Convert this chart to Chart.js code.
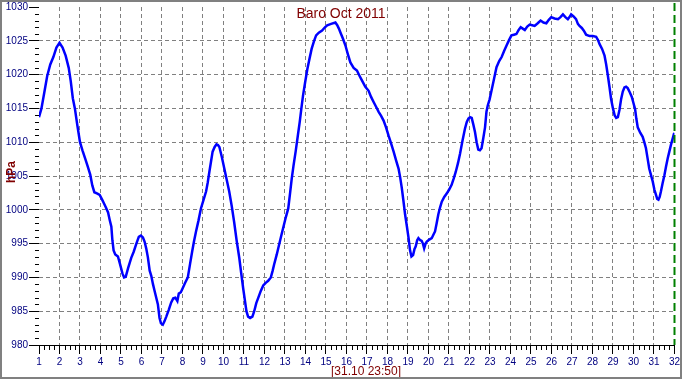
<!DOCTYPE html>
<html>
<head>
<meta charset="utf-8">
<script src="https://cdn.jsdelivr.net/npm/chart.js@4.4.1/dist/chart.umd.min.js"></script>
<style>
  body { margin: 0; background: #fff; }
  #wrap { width: 682px; height: 380px; }
</style>
</head>
<body>
<div id="wrap"><canvas id="baroChart" width="682" height="380"></canvas></div>
<script>
// time in days of October (1 = 1 Oct 00:00), pressure in hPa
const days = [
  1.00, 1.12, 1.25, 1.40, 1.55, 1.70, 1.85, 2.00, 2.15, 2.30, 2.45, 2.55, 2.65, 2.75, 2.87,
  3.00, 3.12, 3.25, 3.38, 3.50, 3.60, 3.70, 3.85, 3.96, 4.08, 4.16, 4.27, 4.37, 4.45, 4.53,
  4.58, 4.64, 4.72, 4.85, 4.95, 5.07, 5.15, 5.23, 5.35, 5.50, 5.62, 5.75, 5.87, 5.97, 6.07,
  6.15, 6.23, 6.31, 6.40, 6.48, 6.56, 6.64, 6.72, 6.80, 6.88, 6.95, 7.04, 7.12, 7.21, 7.33,
  7.45, 7.55, 7.65, 7.75, 7.82, 7.92, 8.01, 8.13, 8.26, 8.37, 8.47, 8.56, 8.66, 8.78, 8.90,
  9.02, 9.15, 9.23, 9.31, 9.39, 9.47, 9.57, 9.66, 9.73, 9.80, 9.92, 10.04, 10.16, 10.28, 10.40,
  10.52, 10.64, 10.77, 10.87, 10.96, 11.05, 11.12, 11.20, 11.30, 11.41, 11.50, 11.60, 11.70, 11.82, 11.94,
  12.06, 12.18, 12.31, 12.40, 12.47, 12.60, 12.71, 12.83, 12.95, 13.05, 13.16, 13.25, 13.33, 13.42, 13.52,
  13.62, 13.72, 13.80, 13.88, 13.98, 14.09, 14.20, 14.30, 14.42, 14.52, 14.65, 14.81, 14.95, 15.06, 15.25,
  15.46, 15.55, 15.63, 15.71, 15.83, 15.95, 16.07, 16.19, 16.35, 16.51, 16.64, 16.76, 16.92, 17.08, 17.20,
  17.33, 17.45, 17.57, 17.69, 17.81, 17.93, 18.05, 18.18, 18.30, 18.42, 18.54, 18.62, 18.70, 18.78, 18.86,
  18.95, 19.03, 19.10, 19.17, 19.25, 19.32, 19.38, 19.45, 19.51, 19.60, 19.67, 19.73, 19.79, 19.86, 19.92,
  20.04, 20.16, 20.24, 20.32, 20.40, 20.48, 20.56, 20.65, 20.77, 20.89, 21.01, 21.13, 21.23, 21.33, 21.44,
  21.54, 21.66, 21.78, 21.87, 21.95, 22.03, 22.11, 22.19, 22.27, 22.35, 22.43, 22.51, 22.59, 22.67, 22.76,
  22.83, 22.89, 22.98, 23.08, 23.20, 23.32, 23.45, 23.57, 23.69, 23.81, 23.93, 24.05, 24.17, 24.29, 24.40,
  24.50, 24.60, 24.70, 24.82, 24.94, 25.06, 25.18, 25.33, 25.47, 25.61, 25.75, 25.87, 25.99, 26.15, 26.32,
  26.44, 26.56, 26.68, 26.80, 26.88, 26.96, 27.08, 27.20, 27.29, 27.37, 27.48, 27.58, 27.69, 27.86, 28.02,
  28.18, 28.27, 28.35, 28.47, 28.59, 28.67, 28.75, 28.83, 28.91, 29.00, 29.08, 29.16, 29.24, 29.32, 29.40,
  29.48, 29.56, 29.64, 29.72, 29.82, 29.92, 30.00, 30.08, 30.14, 30.21, 30.33, 30.45, 30.53, 30.61, 30.69,
  30.77, 30.86, 30.94, 31.02, 31.10, 31.16, 31.22, 31.28, 31.34, 31.42, 31.51, 31.59, 31.67, 31.75, 31.83,
  31.91, 31.99
];
const hpa = [
  1013.7, 1015.0, 1017.2, 1019.8, 1021.5, 1022.6, 1024.0, 1024.7, 1024.0, 1022.8, 1021.0, 1019.0, 1016.5, 1015.0, 1012.5,
  1010.0, 1008.8, 1007.6, 1006.4, 1005.2, 1003.6, 1002.6, 1002.4, 1002.2, 1001.5, 1001.0, 1000.3, 999.6, 998.5, 997.5,
  995.5, 994.0, 993.4, 993.1, 992.0, 990.6, 990.0, 990.1, 991.4, 992.9, 993.8, 995.0, 996.0, 996.2, 995.9,
  995.3, 994.3, 993.0, 991.0, 990.2, 989.0, 988.0, 987.0, 986.0, 984.0, 983.2, 983.0, 983.5, 984.2, 985.2,
  986.3, 986.9, 987.0, 986.5, 987.6, 987.8, 988.4, 989.2, 990.0, 992.0, 993.8, 995.3, 996.8, 998.4, 1000.2,
  1001.4, 1002.7, 1004.0, 1005.6, 1007.1, 1008.6, 1009.3, 1009.7, 1009.6, 1009.3, 1007.8, 1006.1, 1004.4, 1002.7, 1000.6,
  998.2, 995.5, 992.9, 990.5, 988.4, 986.5, 985.0, 984.2, 984.0, 984.2, 985.0, 986.2, 987.0, 988.0, 988.8,
  989.2, 989.5, 990.0, 991.0, 991.9, 993.4, 994.8, 996.3, 997.8, 999.0, 1000.2, 1002.5, 1004.6, 1006.6, 1008.6,
  1010.8, 1013.0, 1015.0, 1016.9, 1018.8, 1020.8, 1022.4, 1023.8, 1025.0, 1025.8, 1026.2, 1026.5, 1027.0, 1027.3, 1027.5,
  1027.7, 1027.3, 1026.8, 1026.2, 1025.3, 1024.3, 1023.0, 1021.8, 1021.0, 1020.6, 1019.8, 1019.1, 1018.2, 1017.6, 1016.7,
  1015.9, 1015.2, 1014.5, 1013.9, 1013.2, 1012.2, 1011.0, 1009.8, 1008.6, 1007.3, 1006.1, 1004.8, 1003.2, 1001.3, 999.3,
  997.5, 995.8, 994.0, 993.1, 993.3, 994.2, 994.6, 995.5, 995.8, 995.5, 995.4, 995.0, 994.3, 995.0, 995.3,
  995.6, 995.8, 996.3, 996.8, 998.0, 999.3, 1000.3, 1001.2, 1001.9, 1002.4, 1003.0, 1003.7, 1004.6, 1005.6, 1006.9,
  1008.3, 1010.2, 1012.0, 1013.0, 1013.5, 1013.7, 1013.6, 1012.6, 1011.5, 1010.0, 1008.9, 1008.8, 1009.1, 1010.5, 1012.2,
  1014.5, 1015.4, 1016.3, 1017.7, 1019.4, 1021.1, 1022.0, 1022.6, 1023.5, 1024.3, 1025.1, 1025.8, 1025.9, 1026.0, 1026.6,
  1027.0, 1026.8, 1026.6, 1027.1, 1027.4, 1027.3, 1027.2, 1027.6, 1028.0, 1027.7, 1027.6, 1028.1, 1028.5, 1028.3, 1028.2,
  1028.5, 1028.9, 1028.5, 1028.2, 1028.5, 1028.9, 1028.6, 1028.2, 1027.5, 1027.2, 1026.9, 1026.5, 1025.9, 1025.7, 1025.7,
  1025.6, 1025.1, 1024.5, 1023.8, 1022.8, 1021.5, 1019.9, 1018.2, 1016.4, 1015.0, 1014.0, 1013.6, 1013.7, 1014.8, 1016.4,
  1017.5, 1018.1, 1018.2, 1018.0, 1017.4, 1016.7, 1015.8, 1014.9, 1013.5, 1012.2, 1011.4, 1010.8, 1010.0, 1009.1, 1007.6,
  1006.1, 1005.1, 1004.2, 1003.0, 1002.2, 1001.6, 1001.5, 1001.9, 1002.7, 1003.9, 1005.1, 1006.4, 1007.6, 1008.6, 1009.6,
  1010.5, 1011.4
];

const chartTitle = 'Baro Oct 2011';
const stampLabel = '[31.10 23:50]';
const yLabel = 'hPa';
const dayMin = 1, dayMax = 32;
const hpaMin = 980, hpaMax = 1030;

const navy = '#000080';
const darkRed = '#800000';
const gridGray = '#808080';

// minor ticks, green "now" line, title texts and frame
const extrasPlugin = {
  id: 'extras',
  afterDraw(chart) {
    const { ctx, chartArea, scales } = chart;
    const x = scales.x, y = scales.y;
    ctx.save();

    // minor ticks on y (every 1 hPa)
    ctx.strokeStyle = '#000';
    ctx.lineWidth = 1;
    ctx.beginPath();
    for (let v = hpaMin; v <= hpaMax; v++) {
      if (v % 5 === 0) continue;
      const py = Math.round(y.getPixelForValue(v)) + 0.5;
      ctx.moveTo(chartArea.left - 4, py);
      ctx.lineTo(chartArea.left, py);
    }
    // minor ticks on x (every 6 hours)
    for (let d = dayMin; d < dayMax; d++) {
      for (let q = 1; q < 4; q++) {
        const px = Math.round(x.getPixelForValue(d + q / 4)) + 0.5;
        ctx.moveTo(px, chartArea.bottom);
        ctx.lineTo(px, chartArea.bottom + 5);
      }
    }
    ctx.stroke();

    // green dashed line at the end of the month
    const gx = Math.round(x.getPixelForValue(dayMax)) + 0.5;
    ctx.strokeStyle = '#008000';
    ctx.lineWidth = 2;
    ctx.setLineDash([8, 4]);
    ctx.beginPath();
    ctx.moveTo(gx, chartArea.top - 4);
    ctx.lineTo(gx, chartArea.bottom);
    ctx.stroke();
    ctx.setLineDash([]);

    // title
    ctx.fillStyle = darkRed;
    ctx.textAlign = 'center';
    ctx.textBaseline = 'alphabetic';
    ctx.font = '14px "Liberation Sans", Arial, sans-serif';
    ctx.fillText(chartTitle, 341, 18);

    // time stamp under the axis
    ctx.font = '12px "Liberation Sans", Arial, sans-serif';
    ctx.fillText(stampLabel, 366, 375);

    // vertical unit label
    ctx.font = 'bold 12px "Liberation Sans", Arial, sans-serif';
    ctx.translate(15, 172);
    ctx.rotate(-Math.PI / 2);
    ctx.fillText(yLabel, 0, 0);
    ctx.setTransform(1, 0, 0, 1, 0, 0);

    // outer frame
    ctx.strokeStyle = gridGray;
    ctx.lineWidth = 2;
    ctx.strokeRect(1, 1, 680, 377);
    ctx.restore();
  }
};

new Chart(document.getElementById('baroChart'), {
  type: 'line',
  data: {
    datasets: [{
      data: days.map((d, i) => ({ x: d, y: hpa[i] })),
      borderColor: '#0000ff',
      borderWidth: 2.5,
      pointRadius: 0,
      tension: 0,
      fill: false
    }]
  },
  options: {
    responsive: false,
    animation: false,
    events: [],
    layout: { padding: { left: 0, right: 5, top: 4, bottom: 0 } },
    plugins: { legend: { display: false }, tooltip: { enabled: false }, title: { display: false } },
    scales: {
      x: {
        type: 'linear',
        min: dayMin,
        max: dayMax,
        afterFit: s => { s.height = 35; },
        ticks: {
          stepSize: 1,
          autoSkip: false,
          maxRotation: 0,
          padding: 2,
          color: navy,
          font: { family: '"Liberation Sans", Arial, sans-serif', size: 10 },
          callback: v => String(v)
        },
        grid: {
          color: c => (c.tick && (c.tick.value === dayMin || c.tick.value === dayMax)) ? 'rgba(0,0,0,0)' : gridGray,
          lineWidth: 1,
          drawTicks: true,
          tickLength: 9,
          tickColor: '#000'
        },
        border: { display: true, color: '#000', width: 1, dash: [4, 3] }
      },
      y: {
        min: hpaMin,
        max: hpaMax,
        afterFit: s => { s.width = 39; },
        ticks: {
          stepSize: 5,
          padding: 1,
          color: navy,
          font: { family: '"Liberation Sans", Arial, sans-serif', size: 10 },
          callback: v => String(v)
        },
        grid: {
          color: c => (c.tick && (c.tick.value === hpaMin || c.tick.value === hpaMax)) ? 'rgba(0,0,0,0)' : gridGray,
          lineWidth: 1,
          drawTicks: true,
          tickLength: 10,
          tickColor: '#000'
        },
        border: { display: false, dash: [4, 3] }
      }
    }
  },
  plugins: [extrasPlugin]
});
</script>
</body>
</html>
